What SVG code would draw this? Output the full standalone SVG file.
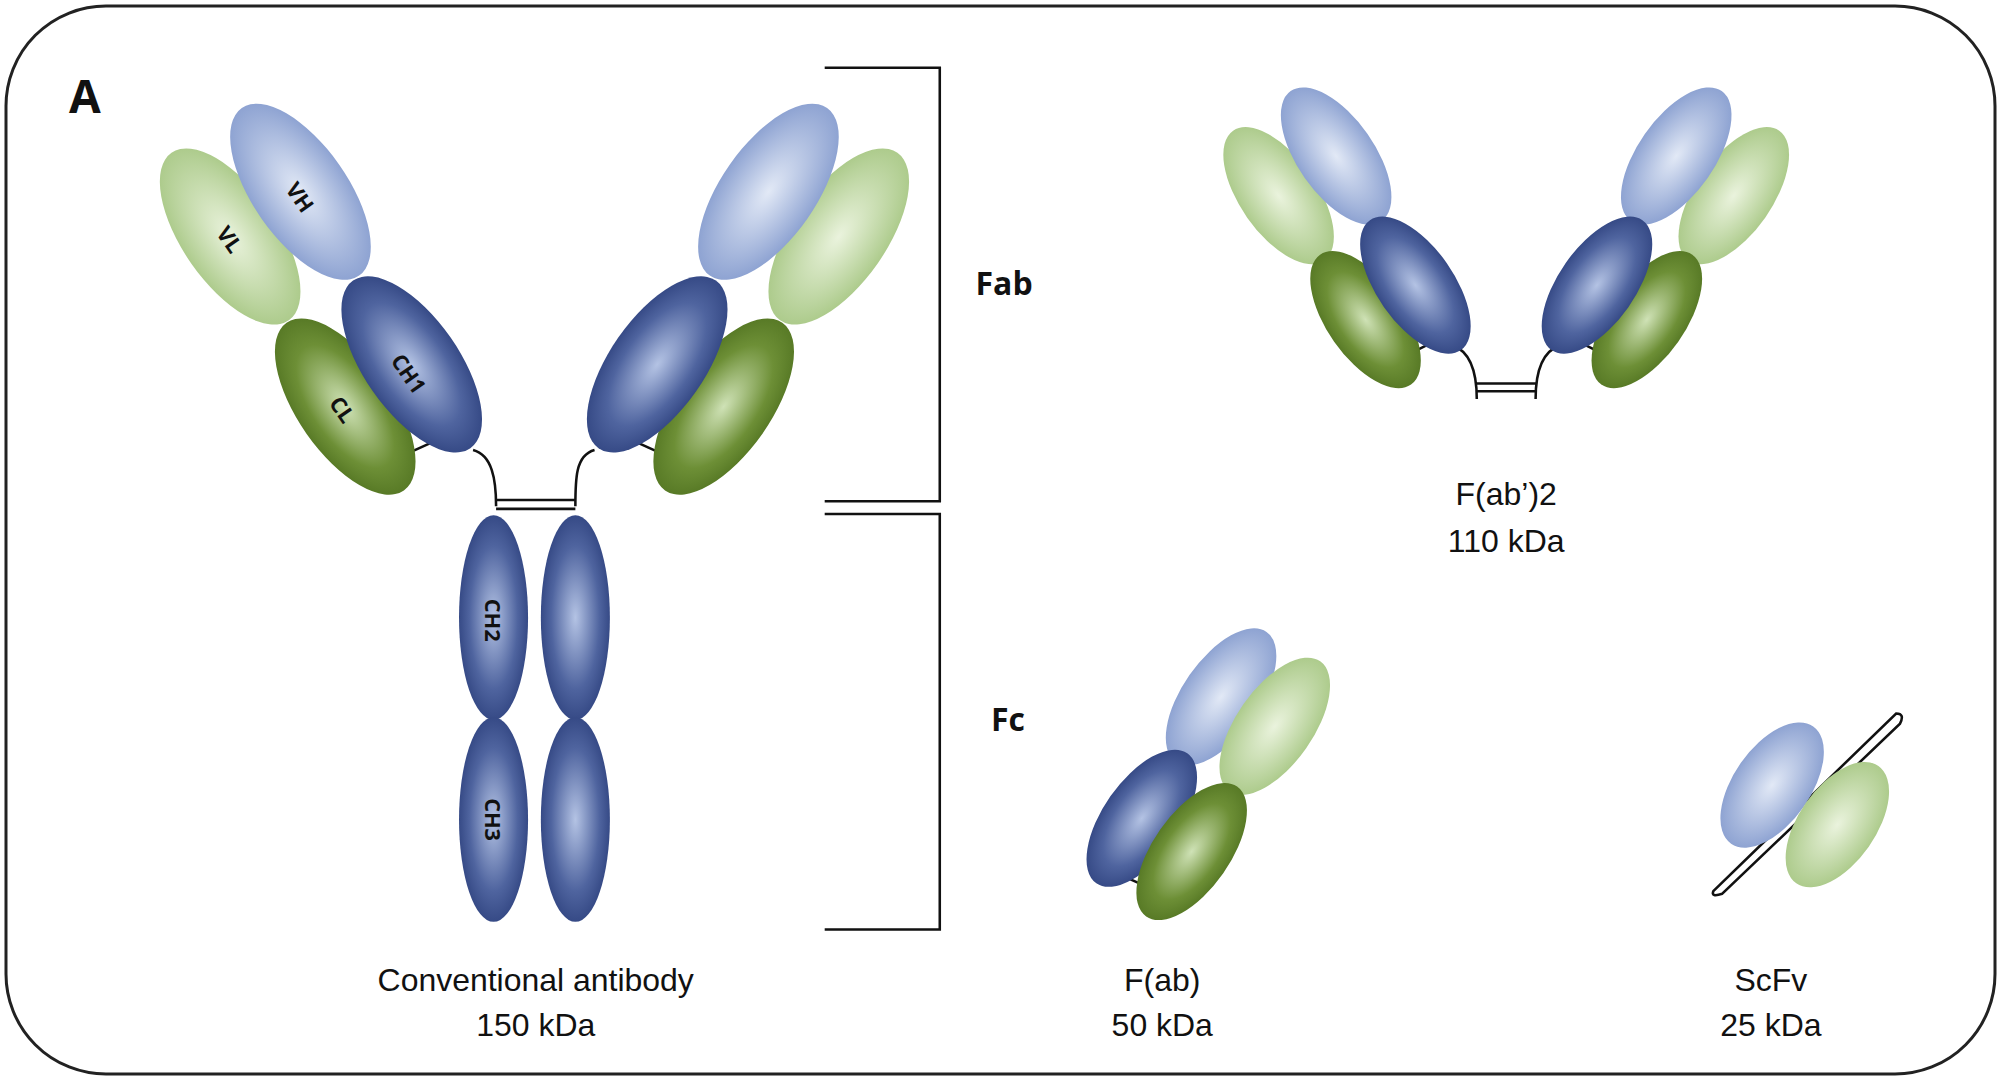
<svg xmlns="http://www.w3.org/2000/svg" width="2001" height="1080" viewBox="0 0 2001 1080">
<defs>
<radialGradient id="lb" cx="0.5" cy="0.5" r="0.5"><stop offset="0" stop-color="#e2e9f6"/><stop offset="1" stop-color="#8ea3d2"/></radialGradient>
<radialGradient id="lg" cx="0.5" cy="0.5" r="0.5"><stop offset="0" stop-color="#eaf3dd"/><stop offset="1" stop-color="#adcb8c"/></radialGradient>
<radialGradient id="db" cx="0.5" cy="0.5" r="0.5"><stop offset="0" stop-color="#b4c3e4"/><stop offset="0.7" stop-color="#4f649f"/><stop offset="1" stop-color="#364a86"/></radialGradient>
<radialGradient id="dg" cx="0.5" cy="0.5" r="0.5"><stop offset="0" stop-color="#cfe2b6"/><stop offset="0.7" stop-color="#6d8f36"/><stop offset="1" stop-color="#587a26"/></radialGradient>
</defs>
<style>
.lb{fill:url(#lb)} .lg{fill:url(#lg)} .db{fill:url(#db)} .dg{fill:url(#dg)}
.ln{fill:none;stroke:#111;stroke-width:2}
.lab{font-family:"Open Sans","Liberation Sans",sans-serif;font-weight:bold;font-size:17px;fill:#111;text-anchor:middle;dominant-baseline:central}
.cap{font-family:"Liberation Sans",Arial,sans-serif;font-size:25px;fill:#111;text-anchor:middle}
.big{font-family:"Open Sans","Liberation Sans",sans-serif;font-weight:bold;fill:#111}
</style>
<rect x="6" y="6" width="1989" height="1068" rx="100" fill="#fff" stroke="#222" stroke-width="3"/>
<g transform="scale(1.2786)">
<text class="big" x="54" y="88" font-size="36">A</text>
<g id="connectors">
<path class="ln" d="M370,352 C385,356 388,375 388,396 M465,352 C450,356 450,375 450,396 M388,391 H450 M388,398 H450 M318,355 L340,345 M518,355 L496,345"/>
<path class="ln" d="M645,53 H735 V392 H645 M645,402 H735 V727 H645"/>
<path class="ln" d="M1136,270 C1150,275 1155,290 1155,312 M1220,270 C1206,275 1201,290 1201,312 M1155,300 H1201 M1155,306 H1201 M1100,278 L1116,270 M1256,278 L1240,270"/>
<path class="ln" d="M878,685 L896,693"/>
<path class="ln" stroke-width="3" d="M1340,697 L1483,558 Q1490,558 1486,566 L1347,699 Q1338,702 1340,697 Z"/>
</g>
<g id="conventional">
<ellipse class="lg" cx="180" cy="185" rx="37" ry="80" transform="rotate(-35 180 185)"/>
<ellipse class="lb" cx="235" cy="150" rx="37" ry="80" transform="rotate(-35 235 150)"/>
<ellipse class="dg" cx="270" cy="318" rx="37" ry="80" transform="rotate(-35 270 318)"/>
<ellipse class="db" cx="322" cy="285" rx="37" ry="80" transform="rotate(-35 322 285)"/>
<ellipse class="lg" cx="656" cy="185" rx="37" ry="80" transform="rotate(35 656 185)"/>
<ellipse class="lb" cx="601" cy="150" rx="37" ry="80" transform="rotate(35 601 150)"/>
<ellipse class="dg" cx="566" cy="318" rx="37" ry="80" transform="rotate(35 566 318)"/>
<ellipse class="db" cx="514" cy="285" rx="37" ry="80" transform="rotate(35 514 285)"/>
<ellipse class="db" cx="386" cy="483" rx="27" ry="80"/>
<ellipse class="db" cx="386" cy="641" rx="27" ry="80"/>
<ellipse class="db" cx="450" cy="483" rx="27" ry="80"/>
<ellipse class="db" cx="450" cy="641" rx="27" ry="80"/>
<text class="lab" transform="translate(180,187) rotate(55)">VL</text>
<text class="lab" transform="translate(235,154) rotate(55)">VH</text>
<text class="lab" transform="translate(268,320) rotate(55)">CL</text>
<text class="lab" transform="translate(320,292) rotate(55)">CH1</text>
<text class="lab" transform="translate(386,485) rotate(90)">CH2</text>
<text class="lab" transform="translate(386,641) rotate(90)">CH3</text>
<text class="cap" x="419" y="775">Conventional antibody</text>
<text class="cap" x="419" y="810">150 kDa</text>
</g>
<text class="big" x="763" y="231" font-size="25">Fab</text>
<text class="big" x="775" y="572" font-size="25">Fc</text>
<g id="fab2">
<ellipse class="lg" cx="1000" cy="153" rx="30" ry="62" transform="rotate(-35 1000 153)"/>
<ellipse class="lb" cx="1045" cy="122" rx="30" ry="62" transform="rotate(-35 1045 122)"/>
<ellipse class="dg" cx="1068" cy="250" rx="30" ry="62" transform="rotate(-35 1068 250)"/>
<ellipse class="db" cx="1107" cy="223" rx="30" ry="62" transform="rotate(-35 1107 223)"/>
<ellipse class="lg" cx="1356" cy="153" rx="30" ry="62" transform="rotate(35 1356 153)"/>
<ellipse class="lb" cx="1311" cy="122" rx="30" ry="62" transform="rotate(35 1311 122)"/>
<ellipse class="dg" cx="1288" cy="250" rx="30" ry="62" transform="rotate(35 1288 250)"/>
<ellipse class="db" cx="1249" cy="223" rx="30" ry="62" transform="rotate(35 1249 223)"/>
<text class="cap" x="1178" y="395">F(ab’)2</text>
<text class="cap" x="1178" y="432">110 kDa</text>
</g>
<g id="fab">
<ellipse class="lb" cx="955" cy="545" rx="30" ry="62" transform="rotate(35 955 545)"/>
<ellipse class="lg" cx="997" cy="568" rx="30" ry="62" transform="rotate(35 997 568)"/>
<ellipse class="db" cx="893" cy="640" rx="30" ry="62" transform="rotate(35 893 640)"/>
<ellipse class="dg" cx="932" cy="666" rx="30" ry="62" transform="rotate(35 932 666)"/>
<text class="cap" x="909" y="775">F(ab)</text>
<text class="cap" x="909" y="810">50 kDa</text>
</g>
<g id="scfv">
<ellipse class="lb" cx="1386" cy="614" rx="30" ry="56" transform="rotate(35 1386 614)"/>
<ellipse class="lg" cx="1437" cy="645" rx="30" ry="56" transform="rotate(35 1437 645)"/>
<text class="cap" x="1385" y="775">ScFv</text>
<text class="cap" x="1385" y="810">25 kDa</text>
</g>
</g>
</svg>
